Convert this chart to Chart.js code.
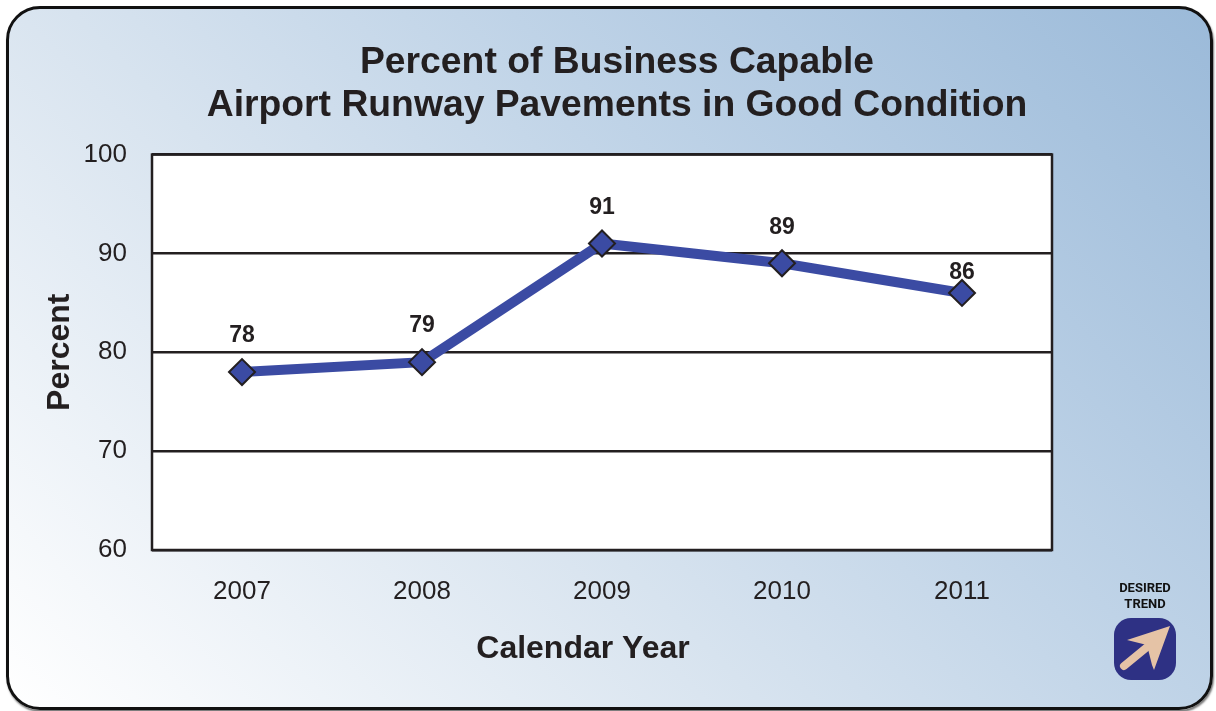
<!DOCTYPE html>
<html>
<head>
<meta charset="utf-8">
<script src="https://cdn.jsdelivr.net/npm/chart.js@4"></script>
<style>
  html, body { margin: 0; padding: 0; background: #fff; }
  body { width: 1216px; height: 711px; position: relative; overflow: hidden; font-family: "Liberation Sans", sans-serif; }
  #card {
    position: absolute; left: 6px; top: 6px; width: 1201px; height: 698px;
    border: 3px solid #111; border-radius: 34px;
    box-shadow: 1px 2px 2px #777;
    background: linear-gradient(45deg, #ffffff 0%, #dae5f0 37%, #bfd3e7 63%, #9bbad9 100%);
  }
  #wrap { position: absolute; left: 0; top: 0; width: 1216px; height: 711px; }
  #trend {
    position: absolute; left: 1095px; top: 580px; width: 100px; text-align: center;
    font: bold 13px/16px Roboto, sans-serif; color: #111;
  }
  #arrow { position: absolute; left: 1114px; top: 618px; }
</style>
</head>
<body>
<div id="card"></div>
<div id="wrap"><canvas id="chart" width="1216" height="711"></canvas></div>
<div id="trend">DESIRED<br>TREND</div>
<svg id="arrow" width="62" height="62" viewBox="0 0 62 62">
  <rect width="62" height="62" rx="17" fill="#2e3184"/>
  <path d="M56 8 L13 22 L33 27 L38 47 L40 52 Z" fill="#e5c3a6"/>
  <path d="M10 48 L38 25" stroke="#e5c3a6" stroke-width="8" stroke-linecap="round"/>
</svg>
<script>
const years = ["2007", "2008", "2009", "2010", "2011"];
const percent = [78, 79, 91, 89, 86];
const titleLines = ["Percent of Business Capable", "Airport Runway Pavements in Good Condition"];
const xTitle = "Calendar Year";
const yTitle = "Percent";

const ink = "#231f20";
const blue = "#3b4ba3";

// white plot area with black frame, drawn under the line
const plotFrame = {
  id: "plotFrame",
  beforeDraw(chart) {
    const a = chart.chartArea;
    const c = chart.ctx;
    c.save();
    c.fillStyle = "#fff";
    c.fillRect(a.left, a.top, a.width, a.height);
    c.restore();
  },
  beforeDatasetsDraw(chart) {
    const a = chart.chartArea;
    const c = chart.ctx;
    c.save();
    c.strokeStyle = ink;
    c.lineWidth = 2.5;
    c.strokeRect(a.left, a.top, a.width, a.height);
    c.restore();
  },
};

// value labels above the points, and the x title which sits left of the plot centre
const captions = {
  id: "captions",
  afterDraw(chart) {
    const c = chart.ctx;
    const pts = chart.getDatasetMeta(0).data;
    c.save();
    c.fillStyle = ink;
    c.textAlign = "center";
    c.textBaseline = "middle";
    c.font = "bold 23px 'Liberation Sans'";
    pts.forEach((p, i) => {
      const gap = i === pts.length - 1 ? 20 : 36;
      c.fillText(percent[i], p.x, p.y - gap);
    });
    c.font = "bold 32px 'Liberation Sans'";
    c.fillText(xTitle, 583, 649);
    c.restore();
  },
};

new Chart(document.getElementById("chart"), {
  type: "line",
  data: {
    labels: years,
    datasets: [
      {
        data: percent,
        borderColor: blue,
        borderWidth: 10,
        tension: 0,
        pointStyle: "rectRot",
        pointRadius: 13,
        pointBackgroundColor: blue,
        pointBorderColor: ink,
        pointBorderWidth: 2,
        clip: false,
      },
    ],
  },
  plugins: [plotFrame, captions],
  options: {
    responsive: false,
    animation: false,
    layout: { padding: { left: 18, right: 0, top: 0, bottom: 0 } },
    plugins: {
      legend: { display: false },
      tooltip: { enabled: false },
      title: {
        display: true,
        text: titleLines,
        color: ink,
        font: { family: "'Liberation Sans'", size: 37.3, weight: "bold", lineHeight: 1.16 },
        padding: { top: 41, bottom: 27 },
      },
    },
    scales: {
      x: {
        offset: true,
        grid: { display: false },
        border: { display: false },
        ticks: {
          color: ink,
          padding: 18,
          font: { family: "'Liberation Sans'", size: 26 },
          maxRotation: 0,
        },
        afterFit(scale) {
          scale.height = 161;
        },
      },
      y: {
        min: 60,
        max: 100,
        grid: { color: ink, lineWidth: 2.5, drawTicks: false },
        border: { display: false },
        ticks: {
          stepSize: 10,
          color: ink,
          padding: 25,
          font: { family: "'Liberation Sans'", size: 26 },
        },
        title: {
          display: true,
          text: yTitle,
          color: ink,
          font: { family: "'Liberation Sans'", size: 32, weight: "bold" },
          padding: { top: 23, bottom: 0 },
        },
        afterFit(scale) {
          scale.width = 134;
        },
      },
      // empty axis, only keeps the room right of the plot for the trend badge
      side: {
        position: "right",
        display: true,
        grid: { display: false },
        border: { display: false },
        ticks: { display: false },
        afterFit(scale) {
          scale.width = 164;
        },
      },
    },
  },
});
</script>
</body>
</html>
